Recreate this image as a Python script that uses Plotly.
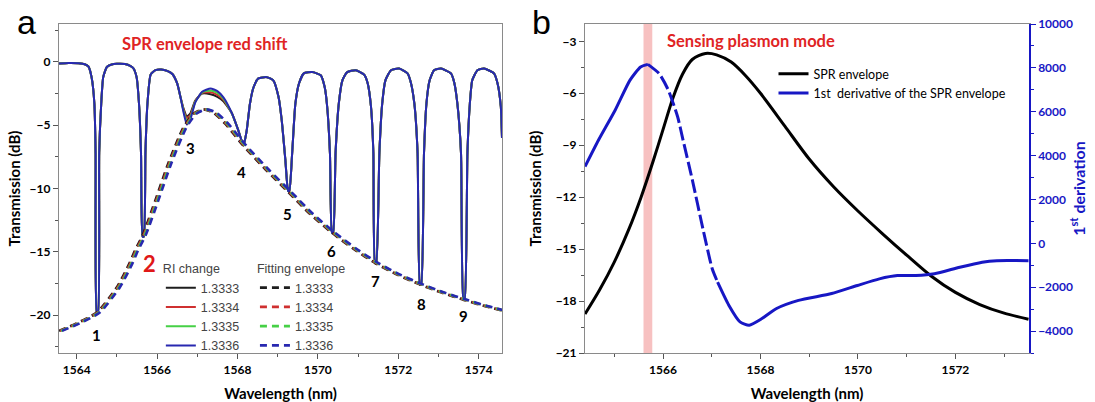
import plotly.graph_objects as go

# ---------------- panel a : data ----------------
RI_LABELS = ["1.3333", "1.3334", "1.3335", "1.3336"]
RI_COLORS = ["#1e1e1e", "#cf3030", "#46d046", "#2828b0"]

# transmission spectrum (common part of the four RI spectra), wavelength nm / dB
SPEC_WL = [1563.56, 1563.80, 1564.05, 1564.20, 1564.29, 1564.37, 1564.44, 1564.47,
           1564.50, 1564.53, 1564.56, 1564.61, 1564.66, 1564.75, 1564.87, 1565.00,
           1565.20, 1565.33, 1565.41, 1565.49, 1565.55, 1565.60, 1565.64, 1565.67,
           1565.71, 1565.76, 1565.84, 1565.96, 1566.10, 1566.25, 1566.38, 1566.50,
           1566.58,
           1567.86, 1568.02, 1568.15, 1568.23, 1568.31, 1568.40, 1568.52, 1568.73,
           1568.89, 1569.02, 1569.10, 1569.19, 1569.26, 1569.29, 1569.36, 1569.44,
           1569.53, 1569.65, 1569.86, 1570.07, 1570.17, 1570.23, 1570.30, 1570.35,
           1570.38, 1570.44, 1570.52, 1570.61, 1570.73, 1570.94, 1571.15, 1571.24,
           1571.32, 1571.38, 1571.42, 1571.45, 1571.53, 1571.60, 1571.68, 1571.82,
           1572.02, 1572.23, 1572.31, 1572.40, 1572.48, 1572.54, 1572.57, 1572.64,
           1572.70, 1572.78, 1572.89, 1573.06, 1573.31, 1573.39, 1573.47, 1573.56,
           1573.62, 1573.65, 1573.72, 1573.78, 1573.84, 1573.97, 1574.13, 1574.38,
           1574.47, 1574.55, 1574.58]
SPEC_DB = [-0.12, -0.08, -0.10, -0.18, -0.35, -1.2, -3.3, -7.2,
           -19.8, -19.8, -7.2, -3.3, -1.2, -0.4, -0.2, -0.15,
           -0.17, -0.3, -0.5, -1.2, -3.3, -7.2, -13.8, -13.8,
           -7.2, -3.3, -1.0, -0.65, -0.6, -0.7, -0.95, -1.7,
           -2.75,
           -4.05, -5.4, -6.6, -5.4, -3.3, -2.0, -1.3, -1.2,
           -1.45, -2.75, -4.6, -7.7, -10.2, -10.2, -7.2, -3.3,
           -1.7, -0.9, -0.8, -1.05, -2.0, -3.5, -7.2, -13.5,
           -13.5, -7.2, -3.3, -1.45, -0.8, -0.65, -1.0, -1.7,
           -3.5, -7.2, -15.9, -15.9, -7.2, -3.3, -1.45, -0.65,
           -0.52, -0.9, -1.6, -3.3, -7.2, -17.6, -17.6, -7.2,
           -3.3, -1.45, -0.65, -0.52, -0.9, -1.6, -3.3, -7.2,
           -18.8, -18.8, -7.2, -3.3, -1.45, -0.65, -0.52, -0.9,
           -1.7, -3.5, -6.0]

# region around dip 3 / central lobe where the four spectra separate
BUMP_WL = [1566.66, 1566.74, 1566.83, 1566.95, 1567.12, 1567.33, 1567.50, 1567.65]
BUMP_DB_BY_RI = [
    [-3.7, -4.3, -4.05, -3.05, -2.5, -2.55, -2.75, -3.1],
    [-3.8, -4.45, -4.2, -3.1, -2.45, -2.4, -2.6, -3.0],
    [-3.9, -4.65, -4.35, -3.15, -2.4, -2.25, -2.45, -2.9],
    [-4.0, -4.95, -4.5, -3.2, -2.35, -2.1, -2.3, -2.8],
]

# fitted SPR envelope (RI 1.3333) and its red shift for each RI
ENV_WL = [1563.56, 1564.0, 1564.5, 1565.0, 1565.3, 1565.45, 1565.64, 1565.95, 1566.28,
          1566.65, 1566.9, 1567.15, 1567.4, 1567.7, 1568.14, 1568.7, 1569.27, 1569.8,
          1570.35, 1570.9, 1571.43, 1572.0, 1572.55, 1573.1, 1573.63, 1574.1, 1574.58]
ENV_DB = [-21.25, -20.65, -19.8, -17.8, -16.0, -14.9, -13.7, -11.0, -8.0,
          -5.2, -4.1, -3.75, -4.0, -4.9, -6.6, -8.5, -10.3, -12.0,
          -13.5, -14.8, -15.9, -16.85, -17.6, -18.25, -18.8, -19.25, -19.65]
ENV_SHIFT_NM = [0.0, 0.025, 0.05, 0.075]

DIP_LABELS = ["1", "2", "3", "4", "5", "6", "7", "8", "9"]
DIP_LABEL_WL = [1564.50, 1565.82, 1566.82, 1568.11, 1569.24, 1570.35, 1571.43, 1572.57, 1573.63]
DIP_LABEL_DB = [-21.6, -15.9, -6.8, -8.7, -12.05, -14.95, -17.3, -19.15, -20.05]

# ---------------- panel b : data ----------------
SPR_WL = [1564.4, 1564.7, 1565.0, 1565.3, 1565.55, 1565.8, 1566.0, 1566.2, 1566.4,
          1566.6, 1566.87, 1567.1, 1567.4, 1567.7, 1568.0, 1568.5, 1569.0, 1569.5,
          1570.0, 1570.5, 1571.0, 1571.5, 1572.0, 1572.5, 1573.0, 1573.5]
SPR_DB = [-18.75, -17.35, -15.75, -13.85, -12.0, -9.9, -8.1, -6.3, -4.9,
          -4.05, -3.7, -3.78, -4.2, -5.0, -6.0, -7.9, -9.8, -11.4,
          -12.8, -14.1, -15.35, -16.55, -17.5, -18.2, -18.7, -19.05]

DERIV_WL = [1564.4, 1564.68, 1565.02, 1565.32, 1565.54, 1565.69, 1565.92, 1566.11, 1566.3,
            1566.41, 1566.6, 1566.82, 1567.01, 1567.12, 1567.35, 1567.58, 1567.77, 1568.03,
            1568.33, 1568.78, 1569.46, 1569.99, 1570.44, 1570.81, 1571.19, 1571.57, 1572.09,
            1572.55, 1572.85, 1573.5]
DERIV = [3500, 4720, 6080, 7430, 8040, 8160, 7740, 6980, 5770,
         4720, 2910, 650, -1160, -1770, -2820, -3580, -3730, -3430,
         -2970, -2600, -2290, -1920, -1620, -1470, -1470, -1390, -1090,
         -860, -790, -790]
DERIV_DASHED_WL = [1565.69, 1567.12]   # part of the derivative drawn dashed
SENSING_BAND_NM = [1565.60, 1565.78]

# ---------------- styles ----------------
FONT = "Lato"
BLUE_B = "#1717c4"
AXIS_GREY = "#8a8a8a"

fig = go.Figure()

# panel a spectra
for i, lab in enumerate(RI_LABELS):
    pts = sorted(list(zip(SPEC_WL, SPEC_DB)) + list(zip(BUMP_WL, BUMP_DB_BY_RI[i])))
    fig.add_trace(go.Scatter(
        x=[p[0] for p in pts], y=[p[1] for p in pts], mode="lines",
        line=dict(color=RI_COLORS[i], width=2, shape="spline", smoothing=0.5),
        name=lab, legend="legend", xaxis="x", yaxis="y"))

# fitting envelopes
for i, lab in enumerate(RI_LABELS):
    fig.add_trace(go.Scatter(
        x=[w + ENV_SHIFT_NM[i] for w in ENV_WL], y=ENV_DB, mode="lines",
        line=dict(color=RI_COLORS[i], width=2.6, dash="7px,5px", shape="spline", smoothing=0.6),
        name=lab, legend="legend2", xaxis="x", yaxis="y"))

# panel b
fig.add_trace(go.Scatter(
    x=SPR_WL, y=SPR_DB, mode="lines", line=dict(color="black", width=3, shape="spline", smoothing=0.8),
    name="SPR envelope", legend="legend3", xaxis="x2", yaxis="y2"))

lo, hi = DERIV_DASHED_WL
seg1 = [(w, d) for w, d in zip(DERIV_WL, DERIV) if w <= lo]
seg2 = [(w, d) for w, d in zip(DERIV_WL, DERIV) if lo <= w <= hi]
seg3 = [(w, d) for w, d in zip(DERIV_WL, DERIV) if w >= hi]
fig.add_trace(go.Scatter(
    x=[p[0] for p in seg1], y=[p[1] for p in seg1], mode="lines",
    line=dict(color=BLUE_B, width=3, shape="spline", smoothing=0.6),
    name="1st  derivative of the SPR envelope", legend="legend3", xaxis="x2", yaxis="y3"))
fig.add_trace(go.Scatter(
    x=[p[0] for p in seg2], y=[p[1] for p in seg2], mode="lines",
    line=dict(color=BLUE_B, width=3, dash="14px,4px", shape="spline", smoothing=0.6),
    showlegend=False, xaxis="x2", yaxis="y3"))
fig.add_trace(go.Scatter(
    x=[p[0] for p in seg3], y=[p[1] for p in seg3], mode="lines",
    line=dict(color=BLUE_B, width=3, shape="spline", smoothing=0.6),
    showlegend=False, xaxis="x2", yaxis="y3"))

fig.add_shape(type="rect", xref="x2", yref="y2 domain",
              x0=SENSING_BAND_NM[0], x1=SENSING_BAND_NM[1], y0=0, y1=1,
              fillcolor="#f7c1c1", line=dict(width=0), layer="below")

tickfont = dict(family=FONT, size=12, color="black", weight="bold")
titlefont = dict(family=FONT, size=15, color="black", weight="bold")
common = dict(showgrid=False, zeroline=False, ticks="outside", ticklen=5, tickcolor="#555",
              linecolor=AXIS_GREY, linewidth=1.2, showline=True, automargin=False,
              tickfont=tickfont)
legfont = dict(family="Liberation Sans", size=12.5, color="#444")

fig.update_layout(
    width=1095, height=402, autosize=False,
    margin=dict(l=59, r=66, t=24, b=49, pad=0),
    paper_bgcolor="white", plot_bgcolor="white",
    font=dict(family=FONT, color="black"),
    xaxis=dict(domain=[0, 0.4567], range=[1563.56, 1574.58], anchor="y",
               tickvals=[1564, 1566, 1568, 1570, 1572, 1574], mirror=True,
               minor=dict(dtick=1, tick0=1563, ticks="outside", ticklen=3, tickcolor="#555"),
               title=dict(text="Wavelength (nm)", font=titlefont, standoff=12), **common),
    yaxis=dict(domain=[0, 1], range=[-23, 3], anchor="x",
               tickvals=[0, -5, -10, -15, -20], mirror=True,
               minor=dict(dtick=2.5, tick0=0, ticks="outside", ticklen=3, tickcolor="#555"),
               title=dict(text="Transmission (dB)", font=titlefont, standoff=5), **common),
    xaxis2=dict(domain=[0.5423, 1], range=[1564.4, 1573.51], anchor="y2",
                tickvals=[1566, 1568, 1570, 1572], mirror=True,
                minor=dict(dtick=1, tick0=1565, ticks="outside", ticklen=3, tickcolor="#555"),
                title=dict(text="Wavelength (nm)", font=titlefont, standoff=12), **common),
    yaxis2=dict(domain=[0, 1], range=[-21, -2], anchor="x2",
                tickvals=[-3, -6, -9, -12, -15, -18, -21],
                minor=dict(dtick=1.5, tick0=-3, ticks="outside", ticklen=3, tickcolor="#555"),
                title=dict(text="Transmission (dB)", font=titlefont, standoff=10), **common),
    yaxis3=dict(overlaying="y2", anchor="x2", side="right", range=[-5000, 10000],
                tickvals=[-4000, -2000, 0, 2000, 4000, 6000, 8000, 10000], tickformat="d",
                showgrid=False, zeroline=False, ticks="outside", ticklen=5, tickcolor=BLUE_B,
                minor=dict(dtick=1000, tick0=0, ticks="outside", ticklen=3, tickcolor=BLUE_B),
                linecolor=BLUE_B, linewidth=1.5, showline=True, automargin=False,
                tickfont=dict(family=FONT, size=12, color=BLUE_B, weight="bold"),
                title=dict(text="1<sup>st</sup> derivation", standoff=2,
                           font=dict(family=FONT, size=16, color=BLUE_B, weight="bold"))),
    legend=dict(x=0.105, y=0.2925, xanchor="left", yanchor="top", bgcolor="rgba(0,0,0,0)",
                font=legfont, title=dict(text="RI change", font=legfont), tracegroupgap=0),
    legend2=dict(x=0.202, y=0.2925, xanchor="left", yanchor="top", bgcolor="rgba(0,0,0,0)",
                 font=legfont, title=dict(text="Fitting envelope", font=legfont), tracegroupgap=0),
    legend3=dict(x=0.7366, y=0.893, xanchor="left", yanchor="top", bgcolor="rgba(0,0,0,0)",
                 font=dict(family=FONT, size=12.5, color="black"), tracegroupgap=0),
)

annos = [
    dict(text="a", x=-0.033, y=1.006, xref="paper", yref="paper",
         font=dict(family="Liberation Sans", size=34, color="black")),
    dict(text="b", x=0.497, y=1.006, xref="paper", yref="paper",
         font=dict(family="Liberation Sans", size=34, color="black")),
    dict(text="SPR envelope red shift", x=1567.2, y=1.45, xref="x", yref="y",
         font=dict(family=FONT, size=16.5, color="#e02424", weight="bold")),
    dict(text="Sensing plasmon mode", x=1567.8, y=-3.0, xref="x2", yref="y2",
         font=dict(family=FONT, size=16.5, color="#e02424", weight="bold")),
]
for lab, wx, dy in zip(DIP_LABELS, DIP_LABEL_WL, DIP_LABEL_DB):
    if lab == "2":
        f = dict(family=FONT, size=22, color="#e01818", weight="bold")
    else:
        f = dict(family=FONT, size=15, color="black", weight="bold")
    annos.append(dict(text=lab, x=wx, y=dy, xref="x", yref="y", font=f))
for a in annos:
    a.update(showarrow=False, xanchor="center", yanchor="middle")
fig.update_layout(annotations=annos)

fig.write_html("out.html")
